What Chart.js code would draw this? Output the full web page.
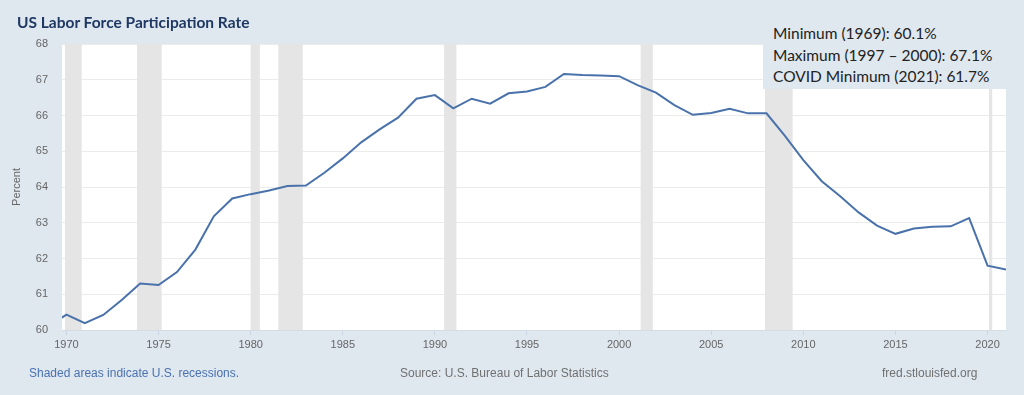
<!DOCTYPE html>
<html>
<head>
<meta charset="utf-8">
<script src="https://cdn.jsdelivr.net/npm/chart.js@4"></script>
<style>
  html, body { margin:0; padding:0; background:#dfe7ef; }
  #wrap { position:relative; width:1024px; height:395px; overflow:hidden; background:#dfe7ef; }
  canvas { position:absolute; left:0; top:0; }
  .title { position:absolute; left:17px; top:13px; font-family:Lato, "Open Sans", sans-serif; font-weight:bold; font-size:15.5px; color:#1f3864; white-space:pre; }
  .note { position:absolute; left:763px; top:14px; width:261px; height:75px; background:#dfe7ef; font-family:Lato, "Open Sans", sans-serif; font-size:15.5px; color:#222; line-height:21.5px; padding:9px 0 0 10px; box-sizing:border-box; }
  .foot { position:absolute; top:366px; font-family:"Liberation Sans", Arial, sans-serif; font-size:12px; color:#707070; white-space:nowrap; }
</style>
</head>
<body>
<div id="wrap">
  <canvas id="c" width="1024" height="395"></canvas>
  <div class="title">US Labor Force Participation Rate</div>
  <div class="note">Minimum (1969): 60.1%<br>Maximum (1997 – 2000): 67.1%<br>COVID Minimum (2021): 61.7%</div>
  <div class="foot" style="left:29px;color:#4a72b0;">Shaded areas indicate U.S. recessions.</div>
  <div class="foot" style="left:400px;">Source: U.S. Bureau of Labor Statistics</div>
  <div class="foot" style="left:882px;">fred.stlouisfed.org</div>
</div>
<script>
const years = [1969,1970,1971,1972,1973,1974,1975,1976,1977,1978,1979,1980,1981,1982,1983,1984,1985,1986,1987,1988,1989,1990,1991,1992,1993,1994,1995,1996,1997,1998,1999,2000,2001,2002,2003,2004,2005,2006,2007,2008,2009,2010,2011,2012,2013,2014,2015,2016,2017,2018,2019,2020,2021];
const rates = [60.1,60.43,60.19,60.42,60.84,61.3,61.26,61.62,62.25,63.18,63.68,63.8,63.9,64.03,64.04,64.4,64.8,65.25,65.61,65.94,66.47,66.57,66.2,66.47,66.33,66.62,66.67,66.8,67.16,67.13,67.12,67.1,66.85,66.64,66.29,66.02,66.07,66.19,66.06,66.06,65.43,64.75,64.16,63.74,63.29,62.92,62.69,62.84,62.89,62.9,63.13,61.8,61.69];
const recessionStarts = [1969.92,1973.83,1980.0,1981.5,1990.5,2001.17,2007.92,2020.08];
const recessionEnds   = [1970.83,1975.17,1980.5,1982.83,1991.17,2001.83,2009.42,2020.25];
const xTickYears = [1970,1975,1980,1985,1990,1995,2000,2005,2010,2015,2020];
const yTicks = [60,61,62,63,64,65,66,67,68];

const shading = {
  id:'shading',
  beforeDraw(chart){
    const {ctx, chartArea:a} = chart;
    ctx.save(); ctx.fillStyle='#ffffff';
    ctx.fillRect(a.left, a.top, a.right-a.left, a.bottom-a.top);
    ctx.restore();
  },
  beforeDatasetsDraw(chart){
    const {ctx, chartArea:a, scales:{x}} = chart;
    ctx.save(); ctx.fillStyle='#e5e5e5';
    for (let i=0;i<recessionStarts.length;i++){
      const l = Math.max(a.left, x.getPixelForValue(recessionStarts[i]));
      const r = Math.min(a.right, x.getPixelForValue(recessionEnds[i]));
      if (r>l) ctx.fillRect(l, a.top, r-l, a.bottom-a.top);
    }
    ctx.restore();
  }
};

new Chart(document.getElementById('c'), {
  type:'line',
  data:{ datasets:[{ data: years.map((y,i)=>({x:y, y:rates[i]})), borderColor:'#4a72aa', borderWidth:2, pointRadius:0, tension:0, clip:0 }]},
  options:{
    responsive:false, animation:false, devicePixelRatio:1,
    layout:{ padding:{ top:44, right:18, left:0, bottom:0 } },
    plugins:{ legend:{display:false}, tooltip:{enabled:false} },
    scales:{
      x:{ type:'linear', min:1969.76, max:2021,
        afterBuildTicks(s){ s.ticks = xTickYears.map(v=>({value:v})); },
        afterFit(s){ s.height = 65; },
        ticks:{ callback:v=>String(v), color:'#666', font:{family:'"Liberation Sans", Arial, sans-serif', size:11}, padding:3, maxRotation:0, autoSkip:false },
        grid:{ drawOnChartArea:false, drawTicks:true, tickLength:5, color:'#c9d5e2' },
        border:{ display:true, color:'#d3dde8' }
      },
      y:{ min:60, max:68,
        afterBuildTicks(s){ s.ticks = yTicks.map(v=>({value:v})); },
        afterFit(s){ s.width = 62; },
        ticks:{ color:'#666', font:{family:'"Liberation Sans", Arial, sans-serif', size:11}, padding:14 },
        grid:{ drawTicks:false, color:'#ebebeb' },
        border:{ display:false },
        title:{ display:true, text:'Percent', color:'#666', font:{family:'"Liberation Sans", Arial, sans-serif', size:11}, padding:{top:10,bottom:0} }
      }
    }
  },
  plugins:[shading]
});
</script>
</body>
</html>
